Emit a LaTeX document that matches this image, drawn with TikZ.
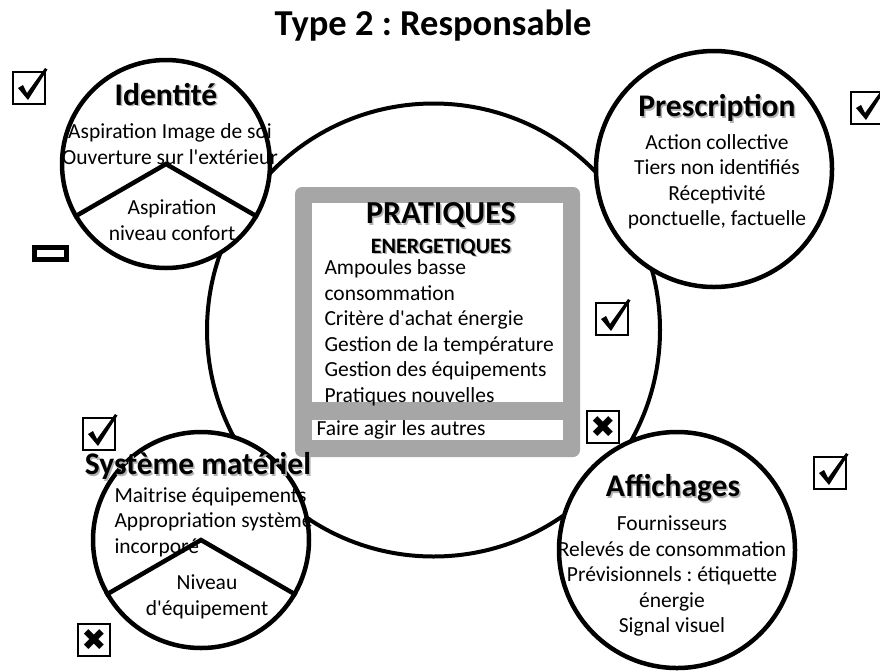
\documentclass[tikz,border=0pt]{standalone}
\usepackage{fontspec}
\setmainfont{Carlito}
\newfontfamily\symfont{DejaVu Sans}
\usetikzlibrary{positioning}
\tikzset{
  ring/.style={draw, circle, line width=4.5pt, fill=white, inner sep=0pt},
  vline/.style={line width=4.5pt, line join=miter},
  head/.style={font=\fontsize{31.5}{34}\selectfont\bfseries, align=center},
  body/.style={font=\fontsize{21.5}{25.5}\selectfont, align=center},
  tickbox/.style={draw, line width=2.6pt, minimum size=32, inner sep=0pt, fill=white, font=\symfont\bfseries\fontsize{30}{30}\selectfont},
  panel/.style={fill=black!35, rounded corners=7pt, inner sep=0pt},
  sheet/.style={fill=white, inner sep=0pt},
}
\newcommand{\shd}[1]{\rlap{\kern1.5pt\raisebox{-1.5pt}{\textcolor{black!30}{#1}}}#1}
\newcommand{\ap}{\textquotesingle}
\frenchspacing

\begin{document}
\begin{tikzpicture}[x=1pt, y=-1pt]
\useasboundingbox (0,0) rectangle (880,670);
\node[font=\fontsize{36.5}{40}\selectfont\bfseries] (title) at (433,26) {Type 2 : Responsable};
\node[ring, line width=4pt, minimum size=453] (core) at (433.5,330) {};
% pratiques
\node[panel, minimum width=285, minimum height=270] (pan) at (437.5,322) {};
\node[sheet, minimum width=251, minimum height=199] (lst) at (437.5,302.5) {};
\node[sheet, minimum width=251, minimum height=20] (oth) at (437.5,430) {};
\node[font=\fontsize{32}{34}\selectfont\bfseries] (prat) at (441,216) {\shd{PRATIQUES}};
\node[font=\fontsize{22}{24}\selectfont\bfseries] (ener) at (441,248) {\shd{ENERGETIQUES}};
\node[body, align=left, anchor=west] (items) at (321,333) {Ampoules basse\\consommation\\Critère d\ap achat énergie\\Gestion de la température\\Gestion des équipements\\Pratiques nouvelles};
\node[body, anchor=west] (agir) at (313,430) {Faire agir les autres};
% identite
\node[ring, minimum size=208] (idc) at (166,164) {};
\draw[vline] (idc.210) -- (idc.center) -- (idc.330);
\node[head] (idh) at (166,95) {\shd{Identité}};
\node[body] (idt) at (170,144) {Aspiration Image de soi\\Ouverture sur l\ap extérieur};
\node[body] (idb) at (172,220) {Aspiration\\niveau confort};
% prescription
\node[ring, minimum size=236] (prc) at (714,169) {};
\node[head] (prh) at (717,109) {\shd{Prescription}};
\node[body] (prt) at (717,182) {Action collective\\Tiers non identifiés\\Réceptivité\\ponctuelle, factuelle};
% systeme materiel
\node[ring, minimum size=216] (smc) at (201,540) {};
\draw[vline] (smc.210) -- (smc.center) -- (smc.330);
\node[head] (smh) at (198,467) {\shd{Système matériel}};
\node[body, align=left, anchor=west] (smt) at (111,522) {Maitrise équipements\\Appropriation système\\incorporé};
\node[body] (smb) at (207,597) {Niveau\\d\ap équipement};
% affichages
\node[ring, minimum size=236] (afc) at (677,550) {};
\node[head] (afh) at (673,489) {\shd{Affichages}};
\node[body] (aft) at (672,576) {Fournisseurs\\Relevés de consommation\\Prévisionnels : étiquette\\énergie\\Signal visuel};
% cases cochees
\foreach \n/\x/\y in {k1/29/88, k2/867/108, k3/612/319, k5/99/434, k6/830/473}{
  \node[tickbox] (\n) at (\x,\y) {};
  \fill ([shift={(-11,0)}]\n.center) -- ([shift={(-6,-3)}]\n.center) -- ([shift={(-2,5)}]\n.center) -- ([shift={(16,-20)}]\n.center) -- ([shift={(18.5,-18.5)}]\n.center) -- ([shift={(-1,12)}]\n.center) -- cycle;
}
% cases barrees
\foreach \n/\x/\y in {k4/603/427, k7/94/640}
  \node[tickbox] (\n) at (\x,\y) {✖};
\node[draw, line width=5pt, minimum width=32, minimum height=12, inner sep=0pt] (k8) at (50,253) {};
\end{tikzpicture}
\end{document}
